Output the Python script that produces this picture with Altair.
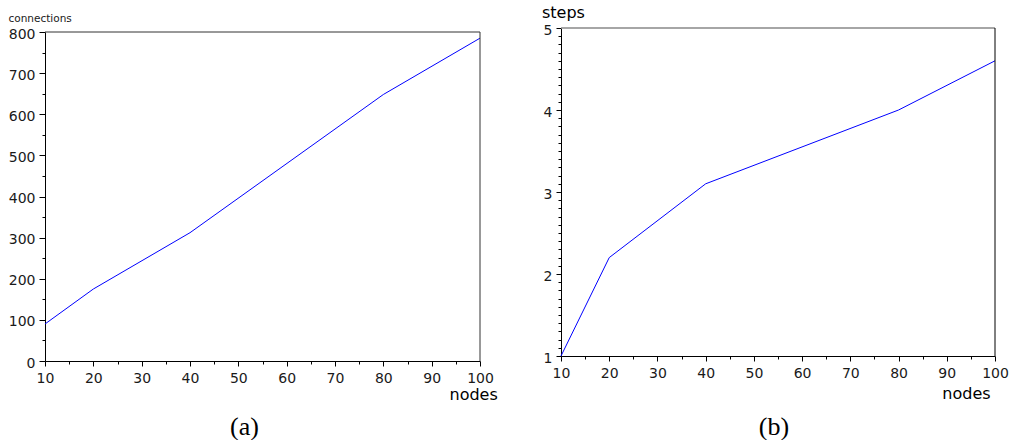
import altair as alt
import pandas as pd

# ---- data ----
nodes_a = [10, 20, 40, 80, 100]
connections = [90, 175, 312, 648, 785]
nodes_b = [10, 20, 40, 80, 100]
steps = [1.0, 2.2, 3.1, 4.0, 4.6]

x_ticks = list(range(10, 101, 5))
y_ticks_a = list(range(0, 801, 50))
y_ticks_b = [round(1 + i * 0.1, 1) for i in range(41)]

df_a = pd.DataFrame({"nodes": nodes_a, "connections": connections})
df_b = pd.DataFrame({"nodes": nodes_b, "steps": steps})
one = pd.DataFrame({"k": [0]})

FONT = "DejaVu Sans"
LABEL_COLOR = "#1a1a1a"
BLUE = "#0000ff"


def make_axis(values, major_test, label_expr, tick_size, pad, offset=0):
    return alt.Axis(
        values=values,
        labelExpr=label_expr,
        title=None,
        grid=False,
        domainColor="#000000",
        domainWidth=1,
        tickColor="#000000",
        tickWidth=1,
        tickSize=tick_size,
        tickDash={"condition": {"test": major_test, "value": [20, 0]}, "value": [3, 20]},
        labelFont=FONT,
        labelFontSize=14,
        labelColor=LABEL_COLOR,
        labelPadding=pad,
        labelOffset=offset,
        labelOverlap=False,
        labelFlush=False,
        labelBound=False,
    )


x_axis = make_axis(x_ticks, "datum.value % 10 === 0",
                   "datum.value % 10 === 0 ? datum.label : ''", 5, 5)
ya_axis = make_axis(y_ticks_a, "datum.value % 100 === 0",
                    "datum.value % 100 === 0 ? datum.label : ''", 6, 4, 2)
yb_axis = make_axis(y_ticks_b, "abs(datum.value - round(datum.value)) < 0.001",
                    "abs(datum.value - round(datum.value)) < 0.001 ? format(datum.value, 'd') : ''", 5, 4, 2)

# ---------------- panel (a) ----------------
xs_a = alt.Scale(domain=[10, 100], nice=False, zero=False)
ys_a = alt.Scale(domain=[0, 800], nice=False, range=[333, 4])

border_a = pd.DataFrame({"nodes": [10, 100, 100], "connections": [800, 800, 0], "seg": [0, 1, 2]})

line_a = alt.Chart(df_a).mark_line(color=BLUE, strokeWidth=1).encode(
    x=alt.X("nodes:Q", scale=xs_a, axis=x_axis),
    y=alt.Y("connections:Q", scale=ys_a, axis=ya_axis),
)
frame_a = alt.Chart(border_a).mark_line(color="#333333", strokeWidth=1).encode(
    x=alt.X("nodes:Q", scale=xs_a, axis=x_axis),
    y=alt.Y("connections:Q", scale=ys_a, axis=ya_axis),
    order="seg:Q",
)
t_conn = alt.Chart(one).mark_text(text="connections", font=FONT, fontSize=10.5, color=LABEL_COLOR,
                                  align="left", baseline="alphabetic").encode(
    x=alt.value(-36.5), y=alt.value(-6))
t_nodes_a = alt.Chart(one).mark_text(text="nodes", font=FONT, fontSize=16, color="#000000",
                                     align="left", baseline="alphabetic").encode(
    x=alt.value(404.5), y=alt.value(372))
t_cap_a = alt.Chart(one).mark_text(text="(a)", font="Liberation Serif", fontSize=26, color="#000000",
                                   align="center", baseline="alphabetic").encode(
    x=alt.value(199.5), y=alt.value(407))

panel_a = alt.layer(line_a, frame_a, t_conn, t_nodes_a, t_cap_a).properties(width=435, height=333)

# ---------------- panel (b) ----------------
xs_b = alt.Scale(domain=[10, 100], nice=False, zero=False)
ys_b = alt.Scale(domain=[1, 5], nice=False, zero=False)

border_b = pd.DataFrame({"nodes": [10, 100], "steps": [5, 5]})
rborder_b = pd.DataFrame({"nodes": [100, 100], "steps": [1, 5]})

line_b = alt.Chart(df_b).mark_line(color=BLUE, strokeWidth=1).encode(
    x=alt.X("nodes:Q", scale=xs_b, axis=x_axis),
    y=alt.Y("steps:Q", scale=ys_b, axis=yb_axis),
)
top_b = alt.Chart(border_b).mark_line(color="#888888", strokeWidth=1.5).encode(
    x=alt.X("nodes:Q", scale=xs_b, axis=x_axis),
    y=alt.Y("steps:Q", scale=ys_b, axis=yb_axis),
)
right_b = alt.Chart(rborder_b).mark_line(color="#000000", strokeWidth=1).encode(
    x=alt.X("nodes:Q", scale=xs_b, axis=x_axis),
    y=alt.Y("steps:Q", scale=ys_b, axis=yb_axis),
    order="steps:Q",
)
t_steps = alt.Chart(one).mark_text(text="steps", font=FONT, fontSize=16, color="#000000",
                                   align="left", baseline="alphabetic").encode(
    x=alt.value(-19), y=alt.value(-10))
t_nodes_b = alt.Chart(one).mark_text(text="nodes", font=FONT, fontSize=16, color="#000000",
                                     align="left", baseline="alphabetic").encode(
    x=alt.value(381.3), y=alt.value(371))
t_cap_b = alt.Chart(one).mark_text(text="(b)", font="Liberation Serif", fontSize=26, color="#000000",
                                   align="center", baseline="alphabetic").encode(
    x=alt.value(213), y=alt.value(407))

panel_b = alt.layer(line_b, top_b, right_b, t_steps, t_nodes_b, t_cap_b).properties(width=434, height=328)

chart = (
    alt.hconcat(panel_a, panel_b, spacing=81, bounds="flush")
    .properties(padding={"left": 8, "top": 5, "right": 0, "bottom": 0}, background="#ffffff")
    .configure_view(stroke=None)
    .configure_axis(labelOverlap=False)
)

chart.save("out.html", embed_options={"renderer": "svg", "actions": False})
